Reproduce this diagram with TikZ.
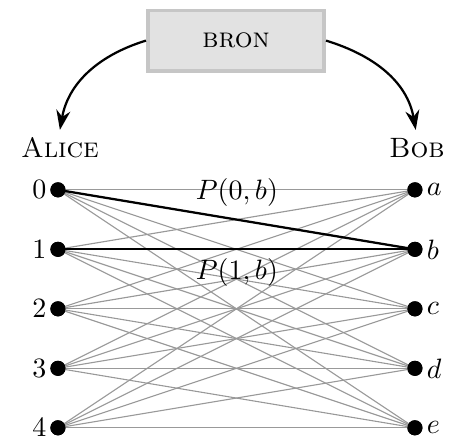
\documentclass[tikz,border=0pt]{standalone}
\usepackage{amsmath}
\usepackage{tikz}
\usetikzlibrary{arrows.meta}
\definecolor{boxfill}{HTML}{E2E2E2}
\definecolor{boxline}{HTML}{C6C6C6}

\tikzset{
  dot/.style={circle, fill=black, inner sep=0pt, minimum size=5.4pt},
  link/.style={gray!80, line width=0.4pt},
  chosen/.style={black, line width=0.8pt},
  source/.style={draw=boxline, fill=boxfill, line width=1.3pt, minimum width=63pt, minimum height=21.5pt}
}

\begin{document}
\begin{tikzpicture}[x=1pt,y=1pt]
\useasboundingbox (0,0) rectangle (164.3,-156.1);

\node[source] (bron) at (84.3,-14.5) {\textsc{bron}};
\node (alice) at (21.4,-52.8) {\textsc{Alice}};
\node (bob) at (148.9,-52.8) {\textsc{Bob}};

\foreach \i in {0,...,4}
\node[dot, label={[inner sep=1pt]left:$\i$}] (l\i) at (20.7,-67.8-21.25*\i) {};
\foreach \s [count=\j from 0] in {a,b,c,d,e}
\node[dot, label={[inner sep=1.2pt]right:$\s$}] (r\s) at (148.2,-67.8-21.25*\j) {};

% all pairs
\foreach \i in {0,...,4}
\foreach \s in {a,b,c,d,e}
\draw[link] (l\i.center) -- (r\s.center);

\draw[chosen] (l0.center) -- (rb.center);
\draw[chosen] (l1.center) -- (rb.center);

\node (p0) at (84.6,-68.9) {$P(0,b)$};
\node (p1) at (84.6,-97.5) {$P(1,b)$};

% dots on top
\foreach \i in {0,...,4}
\fill (l\i) circle (2.7pt);
\foreach \s in {a,b,c,d,e}
\fill (r\s) circle (2.7pt);

\coordinate (aend) at (21.4,-46.4);
\coordinate (bend) at (148.5,-46.4);
\draw[-{Stealth[length=7pt,width=5pt]}, line width=0.8pt] (bron.west) to[out=197, in=80] (aend);
\draw[-{Stealth[length=7pt,width=5pt]}, line width=0.8pt] (bron.east) to[out=-17, in=100] (bend);
\end{tikzpicture}
\end{document}
